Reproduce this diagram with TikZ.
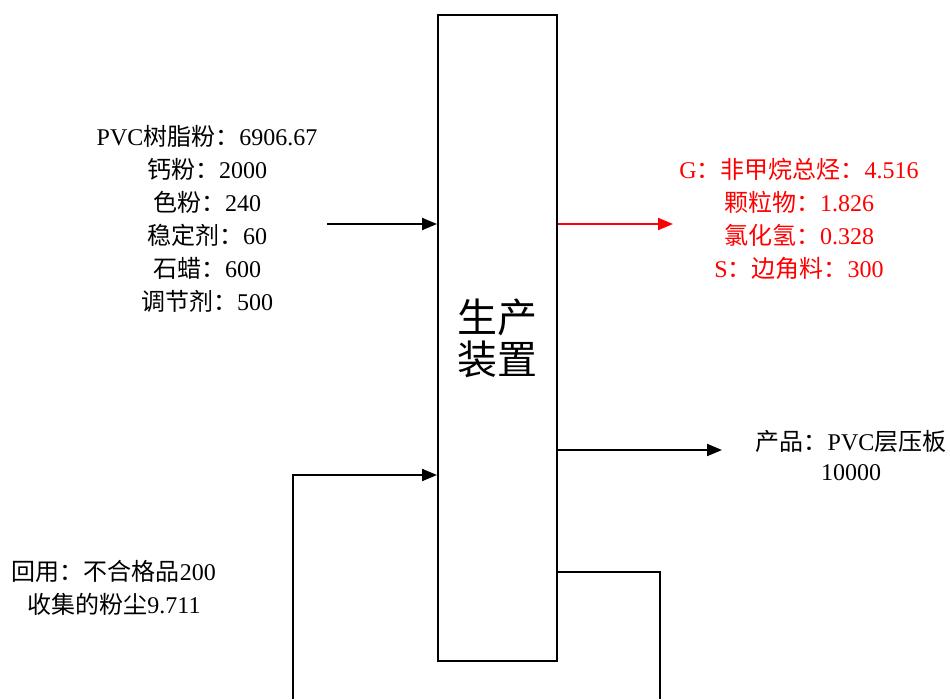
\documentclass[tikz,border=0pt]{standalone}
\usepackage{fontspec}
\setmainfont{Liberation Serif}
\newfontfamily\cjk{Noto Sans CJK SC}
\usetikzlibrary{arrows.meta}
\newcommand\zh[1]{{\cjk #1}}
\tikzset{
  arr/.style={line width=2pt, -{Triangle[length=15pt,width=12pt]}},
  ln/.style={line width=2pt},
  lbl/.style={align=center, font=\fontsize{24}{33}\selectfont, inner sep=0pt},
}
\begin{document}
\begin{tikzpicture}[x=1pt,y=-1pt]
\useasboundingbox (0,0) rectangle (950,699);
\node[draw, line width=2pt, minimum width=119pt, minimum height=646pt, inner sep=0pt,
      align=center, font=\fontsize{40}{42}\selectfont\cjk] (dev) at (497.5,338) {生产\\装置};

\node[lbl] (inp) at (207,218.5) {PVC\zh{树脂粉：}6906.67\\ \zh{钙粉：}2000\\ \zh{色粉：}240\\ \zh{稳定剂：}60\\ \zh{石蜡：}600\\ \zh{调节剂：}500};
\node[lbl, text=red] (emis) at (799,218.5) {G\zh{：非甲烷总烃：}4.516\\ \zh{颗粒物：}1.826\\ \zh{氯化氢：}0.328\\ S\zh{：边角料：}300};
\node[lbl, font=\fontsize{24}{30}\selectfont] (prod) at (851,456) {\zh{产品：}PVC\zh{层压板}\\ 10000};
\node[lbl] (rec) at (114,588) {\zh{回用：不合格品}200\\ \zh{收集的粉尘}9.711};

\coordinate (inL) at (327,224);
\draw[arr] (inL) -- (inL -| dev.west);
\coordinate (outG) at (673,224);
\draw[arr, red] (outG -| dev.east) -- (outG);
\coordinate (outP) at (722,450);
\draw[arr] (outP -| dev.east) -- (outP);
\coordinate (lb) at (293,699);
\coordinate (lt) at (293,475);
\draw[arr] (lb) -- (lt) -- (lt -| dev.west);
\coordinate (rt) at (660,572);
\coordinate (rb) at (660,699);
\draw[ln] (rt -| dev.east) -- (rt) -- (rb);
\end{tikzpicture}
\end{document}
